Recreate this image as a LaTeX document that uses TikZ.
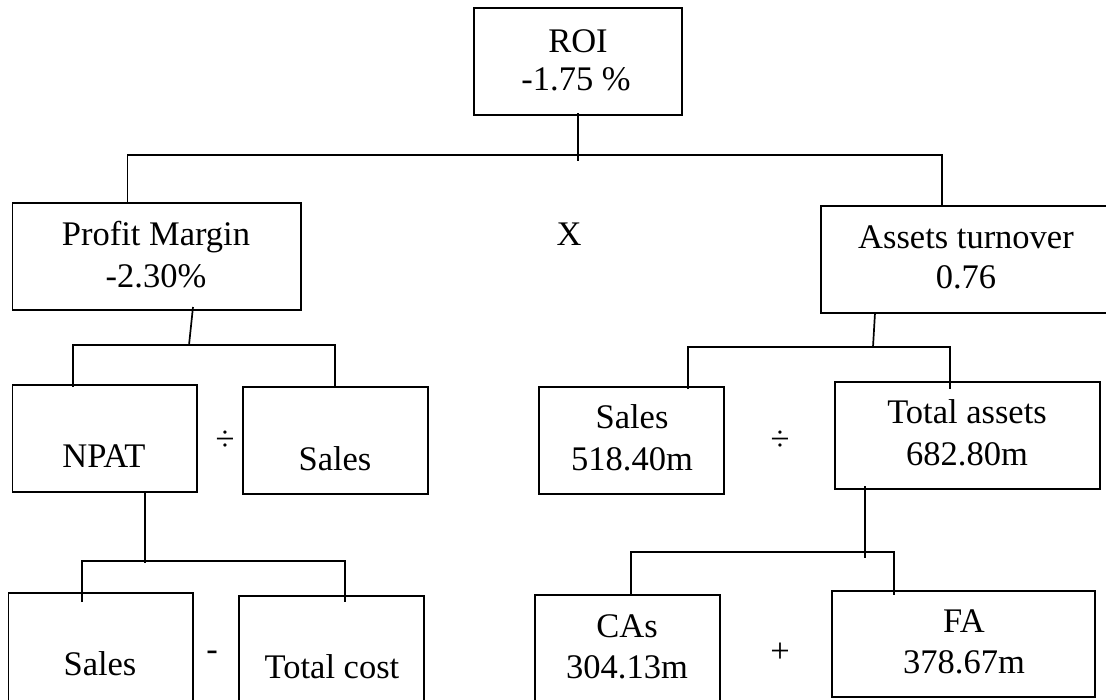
\documentclass[tikz,border=0pt]{standalone}
\usepackage{fontspec}
\setmainfont{Liberation Serif}
\tikzset{
  box/.style={draw=black, line width=1.7pt, rectangle, inner sep=0pt},
  txt/.style={inner sep=0pt, anchor=base, font=\fontsize{34.5}{40}\selectfont},
  op/.style={inner sep=0pt, font=\fontsize{34.5}{40}\selectfont},
  conn/.style={draw=black, line width=1.7pt}
}
\newcommand{\mybox}[5]{\node[box, minimum width={(#4-#2)*1pt}, minimum height={(#5-#3)*1pt}] (#1) at ({(#2+#4)/2},{(#3+#5)/2}) {};}
\begin{document}
\begin{tikzpicture}[x=1pt,y=-1pt]
\clip (0,0) rectangle (1106,699);
\fill[white] (0,0) rectangle (1106,699);
% boxes
\mybox{roi}{474}{8}{682}{115}
\mybox{pm}{12.5}{203}{301}{310}
\mybox{at}{821}{206}{1114}{313}
\mybox{npat}{12.5}{385}{197}{492}
\mybox{salesa}{243}{387}{428}{494}
\mybox{salesb}{539}{387}{724}{494}
\mybox{ta}{835}{382}{1100}{489}
\mybox{salesc}{8.6}{593}{193}{712}
\mybox{tc}{239}{596}{424}{712}
\mybox{cas}{535}{595}{720}{712}
\mybox{fa}{832}{591}{1095}{697}
% texts
\node[txt] (roi1) at (578,52) {ROI};
\node[txt] (roi2) at (576,90) {-1.75 \%};
\node[txt] (pm1) at (156,245) {Profit Margin};
\node[txt] (pm2) at (156,287) {-2.30\%};
\node[txt] (xop) at (569,245) {X};
\node[txt] (at1) at (966,248) {Assets turnover};
\node[txt] (at2) at (966,288) {0.76};
\node[txt] (npatt) at (104,467) {NPAT};
\node[txt] (salesat) at (335,470) {Sales};
\node[op] (div1) at (225,441) {÷};
\node[txt] (salesb1) at (632,428) {Sales};
\node[txt] (salesb2) at (632,470) {518.40m};
\node[op] (div2) at (780,441) {÷};
\node[txt] (ta1) at (967,423) {Total assets};
\node[txt] (ta2) at (967,465) {682.80m};
\node[op] (minus) at (212,656) {-};
\node[txt] (salesct) at (100,675) {Sales};
\node[txt] (tct) at (332,678) {Total cost};
\node[txt] (cas1) at (627,637) {CAs};
\node[txt] (cas2) at (627,678) {304.13m};
\node[op] (plus) at (780,653) {+};
\node[txt] (fa1) at (964,632) {FA};
\node[txt] (fa2) at (964,673) {378.67m};
% connectors level 1
\coordinate (r0) at (578,113);
\coordinate (r1) at (578,161);
\draw[conn] (r0) -- (r1);
\coordinate (h1l) at (127.5,155);
\coordinate (h1r) at (942,155);
\draw[conn] (pm.north -| h1l) -- (h1l) -- (h1r) -- (at.north -| h1r);
% profit margin branch
\coordinate (p0) at (193,307);
\coordinate (p1) at (189,345);
\draw[conn] (p0) -- (p1);
\coordinate (h2l) at (73,345);
\coordinate (h2r) at (335,345);
\draw[conn] ([yshift=-3pt]npat.north -| h2l) -- (h2l) -- (h2r) -- (salesa.north -| h2r);
% assets turnover branch
\coordinate (a0) at (875,313);
\coordinate (a1) at (873,347);
\draw[conn] (a0) -- (a1);
\coordinate (h3l) at (688,347);
\coordinate (h3r) at (950,347);
\draw[conn] ([yshift=-3pt]salesb.north -| h3l) -- (h3l) -- (h3r) -- ([yshift=-8pt]ta.north -| h3r);
% NPAT branch
\coordinate (n1) at (145,563);
\draw[conn] (npat.south -| n1) -- (n1);
\coordinate (h4l) at (82,561);
\coordinate (h4r) at (345,561);
\draw[conn] ([yshift=-10pt]salesc.north -| h4l) -- (h4l) -- (h4r) -- ([yshift=-7pt]tc.north -| h4r);
% total assets branch
\coordinate (t0) at (865,486);
\coordinate (t1) at (865,558);
\draw[conn] (t0) -- (t1);
\coordinate (h5l) at (631,552);
\coordinate (h5r) at (894,552);
\draw[conn] (cas.north -| h5l) -- (h5l) -- (h5r) -- ([yshift=-5pt]fa.north -| h5r);
\end{tikzpicture}
\end{document}
